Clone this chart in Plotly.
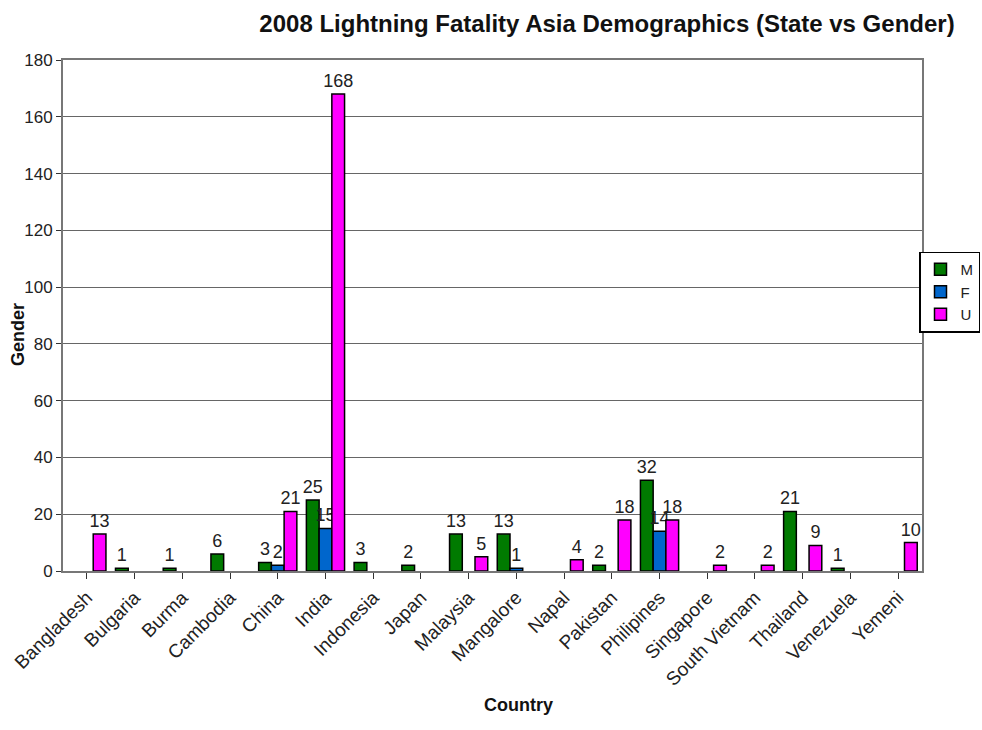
import plotly.graph_objects as go

countries = ["Bangladesh", "Bulgaria", "Burma", "Cambodia", "China", "India", "Indonesia",
             "Japan", "Malaysia", "Mangalore", "Napal", "Pakistan", "Philipines", "Singapore",
             "South Vietnam", "Thailand", "Venezuela", "Yemeni"]
male = [None, 1, 1, 6, 3, 25, 3, 2, 13, 13, None, 2, 32, None, None, 21, 1, None]
female = [None, None, None, None, 2, 15, None, None, None, 1, None, None, 14, None, None, None, None, None]
unknown = [13, None, None, None, 21, 168, None, None, 5, None, 4, 18, 18, 2, 2, 9, None, 10]
y_ticks = [0, 20, 40, 60, 80, 100, 120, 140, 160, 180]

FONT = "Liberation Sans, Arial, sans-serif"
W, H = 982, 730
ML, MR, MT, MB = 63, 60, 60, 159
PW, PH = W - ML - MR, H - MT - MB

def labels(vals):
    return ["" if v is None else str(v) for v in vals]

fig = go.Figure()
for name, vals, color in [("M", male, "#007A00"), ("F", female, "#0066CC"), ("U", unknown, "#FF00FF")]:
    lab_font = dict(family=FONT, size=18, color="#222")
    fig.add_trace(go.Bar(
        x=countries, y=vals, name=name,
        marker=dict(color=color, line=dict(color="black", width=1.5)),
        text=labels(vals), textposition="outside", cliponaxis=False,
        constraintext="none", textfont=lab_font, outsidetextfont=lab_font,
    ))

fig.update_layout(
    width=W, height=H,
    margin=dict(l=ML, r=MR, t=MT, b=MB, autoexpand=False),
    paper_bgcolor="white", plot_bgcolor="white",
    barmode="group", bargap=0.2, bargroupgap=0,
    title=dict(text="<b>2008 Lightning Fatality Asia Demographics (State vs Gender)</b>",
               x=607 / W, xanchor="center", y=1 - 24 / H, yanchor="middle",
               font=dict(family=FONT, size=24, color="#111")),
    font=dict(family=FONT, color="#222"),
    showlegend=True,
    legend=dict(x=(W - 2 - ML) / PW, xanchor="right",
                y=(H - MB - 292) / PH, yanchor="middle",
                bordercolor="black", borderwidth=1.5, bgcolor="white",
                font=dict(family=FONT, size=15), itemwidth=30, tracegroupgap=0),
    annotations=[
        dict(text="<b>Gender</b>", xref="paper", yref="paper",
             x=-(ML - 18) / PW, xanchor="center",
             y=(H - MB - 335) / PH, yanchor="middle",
             textangle=-90, showarrow=False, font=dict(family=FONT, size=18, color="#111")),
        dict(text="<b>Country</b>", xref="paper", yref="paper",
             x=(518 - ML) / PW, xanchor="center",
             y=-(705 - (H - MB)) / PH, yanchor="middle",
             showarrow=False, font=dict(family=FONT, size=18, color="#111")),
    ],
)
fig.update_xaxes(
    showline=True, linecolor="#777", linewidth=2, mirror=True,
    ticks="outside", ticklen=6, tickcolor="#333",
    tickangle=-45, tickfont=dict(family=FONT, size=19, color="#222"),
)
fig.update_yaxes(
    range=[0, 180], tickvals=y_ticks, showgrid=True, gridcolor="#666", gridwidth=1,
    showline=True, linecolor="#777", linewidth=2, mirror=True,
    ticks="outside", ticklen=5, tickcolor="#333",
    tickfont=dict(family=FONT, size=17, color="#222"),
    zeroline=False,
)
fig.write_html("out.html")
